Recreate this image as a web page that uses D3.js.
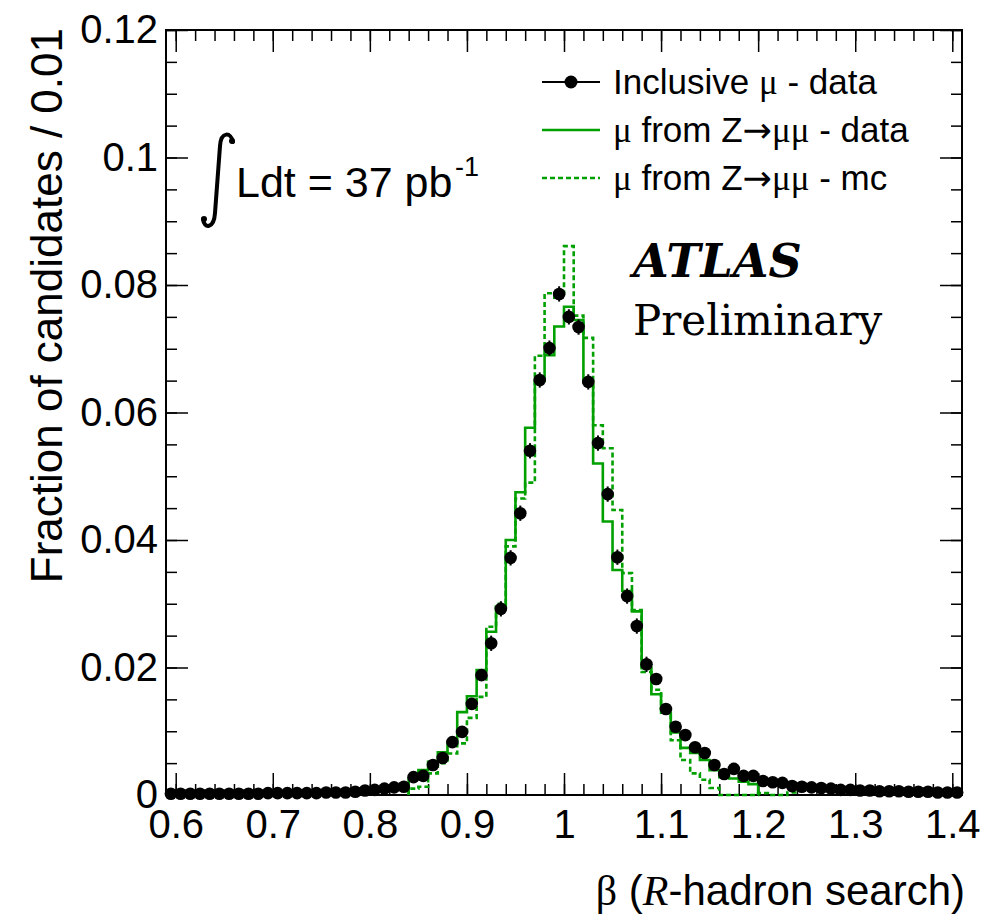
<!DOCTYPE html>
<html>
<head>
<meta charset="UTF-8">
<title>Beta of muon candidates</title>
<style>
  body { margin: 0; background: #fff; }
  svg { display: block; }
  .tick text { font-family: "Liberation Sans", Arial, sans-serif; font-size: 40px; fill: #000; }
  .tick line { stroke: #000; stroke-width: 1.5px; }
  .hist { fill: none; stroke: #00a000; stroke-width: 2.6px; }
  .label { font-family: "Liberation Sans", Arial, sans-serif; fill: #000; }
  .sym { font-family: "Liberation Serif", "Times New Roman", serif; }
  .arrow { font-family: "DejaVu Sans", sans-serif; }
</style>
</head>
<body>
<svg id="chart"></svg>
<script src="https://d3js.org/d3.v7.min.js"></script>
<script>
const width = 999, height = 924;
const frame = { left: 166, right: 962, top: 30, bottom: 795 };

// bins of width 0.01 in beta, 0.59 .. 1.41
const binWidth = 0.01;
const binCenters = d3.range(82).map(i => +(0.595 + i * binWidth).toFixed(3));

// inclusive muons - data (one value per bin)
const inclusiveData = [
  0.0002, 0.0002, 0.0002, 0.0002, 0.0002, 0.0002, 0.0002, 0.0002, 0.0002, 0.0002,
  0.0003, 0.0003, 0.0003, 0.0003, 0.0003, 0.0003, 0.0004, 0.0004, 0.0004, 0.0005,
  0.0007, 0.0008, 0.0010, 0.0012, 0.0013, 0.0028, 0.0030, 0.0047, 0.0058, 0.0083,
  0.0099, 0.0143, 0.0188, 0.0238, 0.0292, 0.0372, 0.0442, 0.0540, 0.0651, 0.0701,
  0.0786, 0.0750, 0.0734, 0.0648, 0.0552, 0.0472, 0.0373, 0.0312, 0.0265, 0.0205,
  0.0182, 0.0135, 0.0107, 0.0094, 0.0075, 0.0066, 0.0047, 0.0033, 0.0041, 0.0030,
  0.0030, 0.0022, 0.0020, 0.0019, 0.0014, 0.0013, 0.0012, 0.0011, 0.0010, 0.0008,
  0.0008, 0.0007, 0.0007, 0.0006, 0.0006, 0.0006, 0.0005, 0.0005, 0.0005, 0.0004,
  0.0004, 0.0004
];
const statErr = 0.0012;

// muons from Z->mumu, histograms starting at beta = 0.84
const histStart = 0.84;
const zmumuData = [
  0.0025, 0.0039, 0.0052, 0.0067, 0.0081, 0.0130, 0.0155, 0.0196, 0.0256, 0.0295,
  0.0400, 0.0475, 0.0576, 0.0650, 0.0690, 0.0735, 0.0766, 0.0745, 0.0648, 0.0520,
  0.0429, 0.0353, 0.0320, 0.0288, 0.0199, 0.0158, 0.0129, 0.0098, 0.0074, 0.0066,
  0.0055, 0.0039, 0.0028, 0.0026, 0.0021, 0.0017
];
const zmumuMC = [
  0.0010, 0.0013, 0.0034, 0.0050, 0.0065, 0.0081, 0.0121, 0.0154, 0.0264, 0.0300,
  0.0390, 0.0465, 0.0490, 0.0689, 0.0787, 0.0780, 0.0861, 0.0752, 0.0717, 0.0580,
  0.0544, 0.0447, 0.0348, 0.0290, 0.0193, 0.0165, 0.0135, 0.0086, 0.0055, 0.0034,
  0.0024, 0.0011, 0, 0, 0, 0, 0.0003, 0, 0, 0.0004
];

const xMajor = [0.6, 0.7, 0.8, 0.9, 1.0, 1.1, 1.2, 1.3, 1.4];
const xLabels = ["0.6", "0.7", "0.8", "0.9", "1", "1.1", "1.2", "1.3", "1.4"];
const yMajor = [0, 0.02, 0.04, 0.06, 0.08, 0.1, 0.12];
const yLabels = ["0", "0.02", "0.04", "0.06", "0.08", "0.1", "0.12"];

const svg = d3.select("#chart").attr("width", width).attr("height", height);

const x = d3.scaleLinear().domain([0.59, 1.41]).range([frame.left, frame.right]);
const y = d3.scaleLinear().domain([0, 0.12]).range([frame.bottom, frame.top]);

const xMinor = d3.range(0.6, 1.401, 0.02).map(v => +v.toFixed(2));
const yMinor = d3.range(0, 0.1201, 0.005).map(v => +v.toFixed(3));

// ---- axes, ticks pointing inwards on all four sides
function drawAxis(axis, tx, ty, labels) {
  const g = svg.append("g").attr("transform", `translate(${tx},${ty})`).call(axis);
  g.select(".domain").remove();
  if (!labels) g.selectAll("text").remove();
  return g;
}
drawAxis(d3.axisBottom(x).tickValues(xMinor).tickSize(-11).tickFormat(""), 0, frame.bottom, false);
drawAxis(d3.axisBottom(x).tickValues(xMajor).tickSize(-22).tickPadding(15)
  .tickFormat((d, i) => xLabels[i]), 0, frame.bottom, true)
  .selectAll("text").attr("dy", "0.71em");
drawAxis(d3.axisTop(x).tickValues(xMinor).tickSize(-11).tickFormat(""), 0, frame.top, false);
drawAxis(d3.axisTop(x).tickValues(xMajor).tickSize(-22).tickFormat(""), 0, frame.top, false);

drawAxis(d3.axisLeft(y).tickValues(yMinor).tickSize(-11).tickFormat(""), frame.left, 0, false);
drawAxis(d3.axisLeft(y).tickValues(yMajor).tickSize(-22).tickPadding(8)
  .tickFormat((d, i) => yLabels[i]), frame.left, 0, true);
drawAxis(d3.axisRight(y).tickValues(yMinor).tickSize(-11).tickFormat(""), frame.right, 0, false);
drawAxis(d3.axisRight(y).tickValues(yMajor).tickSize(-22).tickFormat(""), frame.right, 0, false);

svg.append("rect")
  .attr("x", frame.left).attr("y", frame.top)
  .attr("width", frame.right - frame.left).attr("height", frame.bottom - frame.top)
  .attr("fill", "none").attr("stroke", "#000").attr("stroke-width", 2);

// ---- histograms
function stepPoints(start, vals) {
  const pts = [[start, 0]];
  vals.forEach((v, i) => {
    const lo = start + i * binWidth;
    pts.push([lo, v], [lo + binWidth, v]);
  });
  pts.push([start + vals.length * binWidth, 0]);
  return pts;
}
const line = d3.line().x(d => x(d[0])).y(d => y(d[1]));

svg.append("path").attr("class", "hist")
  .attr("d", line(stepPoints(histStart, zmumuData)));
svg.append("path").attr("class", "hist")
  .attr("stroke-dasharray", "5,3")
  .attr("d", line(stepPoints(histStart, zmumuMC)));

// ---- inclusive data points
const pts = svg.append("g");
pts.selectAll("line")
  .data(binCenters.map((c, i) => [c, inclusiveData[i]]).filter(d => d[1] > 0.02))
  .join("line")
  .attr("x1", d => x(d[0])).attr("x2", d => x(d[0]))
  .attr("y1", d => y(d[1] - statErr)).attr("y2", d => y(d[1] + statErr))
  .attr("stroke", "#000").attr("stroke-width", 2);
pts.selectAll("circle")
  .data(binCenters.map((c, i) => [c, inclusiveData[i]]))
  .join("circle")
  .attr("cx", d => x(d[0])).attr("cy", d => y(d[1]))
  .attr("r", 6.3).attr("fill", "#000");

// ---- axis titles
svg.append("text").attr("class", "label")
  .attr("transform", `translate(62,${frame.top - 2}) rotate(-90)`)
  .attr("text-anchor", "end").attr("font-size", 44)
  .text("Fraction of candidates / 0.01");

const xt = svg.append("text").attr("class", "label")
  .attr("x", 965).attr("y", 905).attr("text-anchor", "end").attr("font-size", 42);
xt.append("tspan").attr("class", "sym").text("β");
xt.append("tspan").text(" (");
xt.append("tspan").attr("class", "sym").attr("font-style", "italic").text("R");
xt.append("tspan").text("-hadron search)");

// ---- legend
const legend = [
  { text: ["Inclusive ", "μ", " - data"], dash: null, color: "#000", marker: true },
  { text: ["", "μ", " from Z", "→", "μμ", " - data"], dash: null, color: "#00a000", marker: false },
  { text: ["", "μ", " from Z", "→", "μμ", " - mc"], dash: "5,3", color: "#00a000", marker: false }
];
const lg = svg.append("g");
legend.forEach((d, i) => {
  const ly = 82 + i * 48;
  lg.append("line").attr("x1", 542).attr("x2", 600).attr("y1", ly).attr("y2", ly)
    .attr("stroke", d.color).attr("stroke-width", d.marker ? 2.2 : 2.6)
    .attr("stroke-dasharray", d.dash);
  if (d.marker) lg.append("circle").attr("cx", 571).attr("cy", ly).attr("r", 6.5).attr("fill", "#000");
  const t = lg.append("text").attr("class", "label").attr("x", 613).attr("y", ly + 12)
    .attr("font-size", 35);
  d.text.forEach(s => {
    const cls = s === "→" ? "arrow" : (s === "μ" || s === "μμ") ? "sym" : null;
    t.append("tspan").attr("class", cls).text(s);
  });
});

// ---- luminosity
svg.append("path")
  .attr("d", "M233,142 C231,132 221,131 220,146 L215,213 C214,229 204,229 203,219")
  .attr("fill", "none").attr("stroke", "#000").attr("stroke-width", 4)
  .attr("stroke-linecap", "round");
svg.append("circle").attr("cx", 232).attr("cy", 141).attr("r", 3).attr("fill", "#000");
svg.append("circle").attr("cx", 204).attr("cy", 219).attr("r", 3).attr("fill", "#000");
svg.append("text").attr("class", "label").attr("x", 236).attr("y", 197)
  .attr("font-size", 43).text("Ldt = 37 pb");
svg.append("text").attr("class", "label").attr("x", 455).attr("y", 176)
  .attr("font-size", 27).text("-1");

// ---- ATLAS label
svg.append("text").attr("x", 633).attr("y", 277)
  .attr("font-family", "'DejaVu Serif', serif").attr("font-weight", "bold")
  .attr("font-style", "italic").attr("font-size", 46).text("ATLAS");
svg.append("text").attr("x", 633).attr("y", 335)
  .attr("font-family", "'DejaVu Serif', serif").attr("font-size", 42).text("Preliminary");
</script>
</body>
</html>
